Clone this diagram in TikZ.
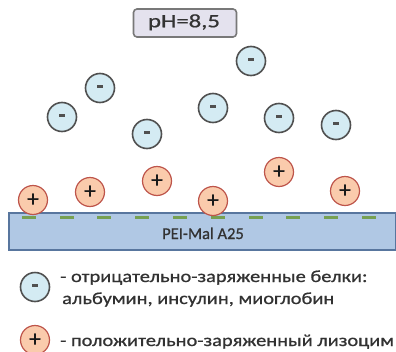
\documentclass[tikz,border=0pt]{standalone}
\usepackage{fontspec}
\setmainfont{Carlito}
\newfontfamily\thickfont[FakeBold=0.8]{Carlito}
\definecolor{minfill}{RGB}{212,235,243}
\definecolor{mindraw}{RGB}{80,80,80}
\definecolor{plusfill}{RGB}{250,203,172}
\definecolor{plusdraw}{RGB}{190,85,75}
\definecolor{slabfill}{RGB}{176,200,228}
\definecolor{slabdraw}{RGB}{88,118,158}
\definecolor{dashgreen}{RGB}{118,160,82}
\definecolor{phfill}{RGB}{228,226,238}
\definecolor{phdraw}{RGB}{120,120,120}
\definecolor{txt}{RGB}{50,50,50}
\begin{document}
\begin{tikzpicture}[x=1pt,y=-1pt,
  negprot/.style={circle,draw=mindraw,line width=1.6pt,fill=minfill,minimum size=29pt,inner sep=0pt},
  posprot/.style={circle,draw=plusdraw,line width=1.2pt,fill=plusfill,minimum size=29pt,inner sep=0pt,
    font=\thickfont\fontsize{23}{23}\selectfont,text=black!90},
  gdash/.style={fill=dashgreen,draw=none,minimum width=14pt,minimum height=3pt,inner sep=0pt},
  legend/.style={anchor=base west,inner sep=0pt,text=txt,font=\thickfont\fontsize{17}{17}\selectfont}]
\useasboundingbox (0,0) rectangle (396,351);
\newcommand{\mybar}{\textcolor{mindraw}{\rule[2.5pt]{6pt}{2.8pt}}}
\newcommand{\wide}[1]{\scalebox{1.2}[1]{#1}}
% pH box
\node[draw=phdraw,line width=1.6pt,fill=phfill,rounded corners=3.5pt,minimum width=103pt,minimum height=28pt] (ph) at (185,23) {};
\node[anchor=base,inner sep=0pt,font=\thickfont\fontsize{19}{19}\selectfont,text=black!80] (phlbl) at (184,27.3) {\scalebox{1.3}[1]{pH=8,5}};
% negative proteins
\node[negprot] (n1) at (100,88) {\mybar};
\node[negprot] (n2) at (62,117) {\mybar};
\node[negprot] (n3) at (147,134) {\mybar};
\node[negprot] (n4) at (251,61) {\mybar};
\node[negprot] (n5) at (213,108) {\mybar};
\node[negprot] (n6) at (279,118) {\mybar};
\node[negprot] (n7) at (336,125) {\mybar};
% slab
\node[draw=slabdraw,line width=2pt,fill=slabfill,minimum width=387pt,minimum height=37pt,inner sep=0pt,anchor=north west] (slab) at (8,212) {};
\node[anchor=base,inner sep=0pt,text=txt,font=\thickfont\fontsize{16.5}{16.5}\selectfont] (slablbl) at (203,239) {PEI-Mal A25};
\foreach \i/\xx in {1/29,2/67,3/104,4/142,5/180,6/218,7/256,8/293,9/331,10/369}
  \node[gdash] (g\i) at (\xx,217) {};
% positive proteins
\node[posprot] (p1) at (33,200) {+};
\node[posprot] (p2) at (90,192) {+};
\node[posprot] (p3) at (157,181) {+};
\node[posprot] (p4) at (213,201) {+};
\node[posprot] (p5) at (279,172) {+};
\node[posprot] (p6) at (345,191) {+};
% legend
\node[negprot] (ln) at (35,287) {\mybar};
\node[legend] (l1) at (60,282) {\wide{- отрицательно-заряженные белки:}};
\node[legend] (l2) at (62,304) {\wide{альбумин, инсулин, миоглобин}};
\node[posprot] (lp) at (35,340) {+};
\node[legend] (l3) at (60,346) {\wide{- положительно-заряженный лизоцим}};
\end{tikzpicture}
\end{document}
